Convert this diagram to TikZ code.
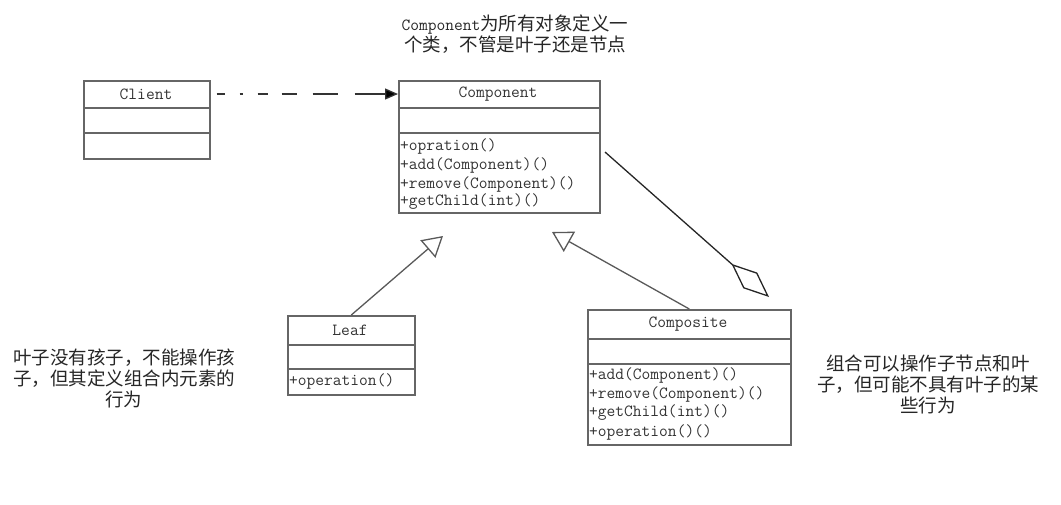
\documentclass[tikz,border=0pt]{standalone}
\usepackage{fontspec}
\newfontfamily\cjk{Noto Sans CJK SC}
\usetikzlibrary{arrows.meta}
\begin{document}
\begin{tikzpicture}[x=1pt,y=-1pt,
  boxline/.style={draw=black!60, line width=1.6pt},
  classbox/.style={boxline, rectangle, inner sep=0pt, anchor=north west},
  mono/.style={font=\ttfamily\fontsize{17}{19}\selectfont, text=black!80, inner sep=0pt},
  note/.style={font=\cjk\fontsize{18.5}{21}\selectfont, text=black!85, align=center, inner sep=0pt},
  conn/.style={draw=black!65, line width=1.3pt}
]
\useasboundingbox (0,0) rectangle (1061,504);

% Client
\node[classbox, minimum width=126pt, minimum height=78pt] (client) at (83,80) {};
\draw[boxline] ([yshift=-28pt]client.north west) -- ([yshift=-28pt]client.north east);
\draw[boxline] ([yshift=-53pt]client.north west) -- ([yshift=-53pt]client.north east);
\node[mono] (clientname) at (146,94) {Client};

% Component
\node[classbox, minimum width=201pt, minimum height=132pt] (component) at (398,80) {};
\draw[boxline] ([yshift=-28pt]component.north west) -- ([yshift=-28pt]component.north east);
\draw[boxline] ([yshift=-53pt]component.north west) -- ([yshift=-53pt]component.north east);
\node[mono] (compname) at (498,94) {Component};
\node[mono, anchor=west] (cm1) at (400,146) {+opration()};
\node[mono, anchor=west] (cm2) at (400,165) {+add(Component)()};
\node[mono, anchor=west] (cm3) at (400,184) {+remove(Component)()};
\node[mono, anchor=west] (cm4) at (400,202) {+getChild(int)()};

% Leaf
\node[classbox, minimum width=127pt, minimum height=79pt] (leaf) at (287,315) {};
\draw[boxline] ([yshift=-30pt]leaf.north west) -- ([yshift=-30pt]leaf.north east);
\draw[boxline] ([yshift=-54pt]leaf.north west) -- ([yshift=-54pt]leaf.north east);
\node[mono] (leafname) at (350,330) {Leaf};
\node[mono, anchor=west] (lm1) at (289,381) {+operation()};

% Composite
\node[classbox, minimum width=203pt, minimum height=135pt] (composite) at (587,309) {};
\draw[boxline] ([yshift=-30pt]composite.north west) -- ([yshift=-30pt]composite.north east);
\draw[boxline] ([yshift=-55pt]composite.north west) -- ([yshift=-55pt]composite.north east);
\node[mono] (compositename) at (688,324) {Composite};
\node[mono, anchor=west] (pm1) at (589,375) {+add(Component)()};
\node[mono, anchor=west] (pm2) at (589,394) {+remove(Component)()};
\node[mono, anchor=west] (pm3) at (589,413) {+getChild(int)()};
\node[mono, anchor=west] (pm4) at (589,432) {+operation()()};

% connector end points
\coordinate (gA) at (443,236);
\coordinate (gB) at (552,232);
\coordinate (aggS) at (605,152);
\coordinate (aggT) at (769,297);

% dependency
\draw[conn, draw=black!80, dash pattern=on 8pt off 15pt on 3pt off 15pt on 10pt off 14pt on 15pt off 16pt on 25pt off 17pt on 60pt, -{Triangle[length=13pt,width=11pt,fill=black]}]
  (clientname -| client.east) ++(6,0) -- (compname -| component.west);

% generalizations
\draw[conn, -{Triangle[open,length=20pt,width=23pt]}] (leaf.north) -- (gA);
\draw[conn, -{Triangle[open,length=20pt,width=23pt]}] (composite.north) -- (gB);

% aggregation
\draw[draw=black!85, line width=1.3pt, -{Diamond[open,length=50pt,width=21pt]}] (aggS) -- (aggT);

% notes
\node[note] (topnote) at (515,34) {{\ttfamily\fontsize{17}{19}\selectfont Component}为所有对象定义一\\个类，不管是叶子还是节点};
\node[note] (leftnote) at (124,378) {叶子没有孩子，不能操作孩\\子，但其定义组合内元素的\\行为};
\node[note] (rightnote) at (928,384) {组合可以操作子节点和叶\\子，但可能不具有叶子的某\\些行为};
\end{tikzpicture}
\end{document}
